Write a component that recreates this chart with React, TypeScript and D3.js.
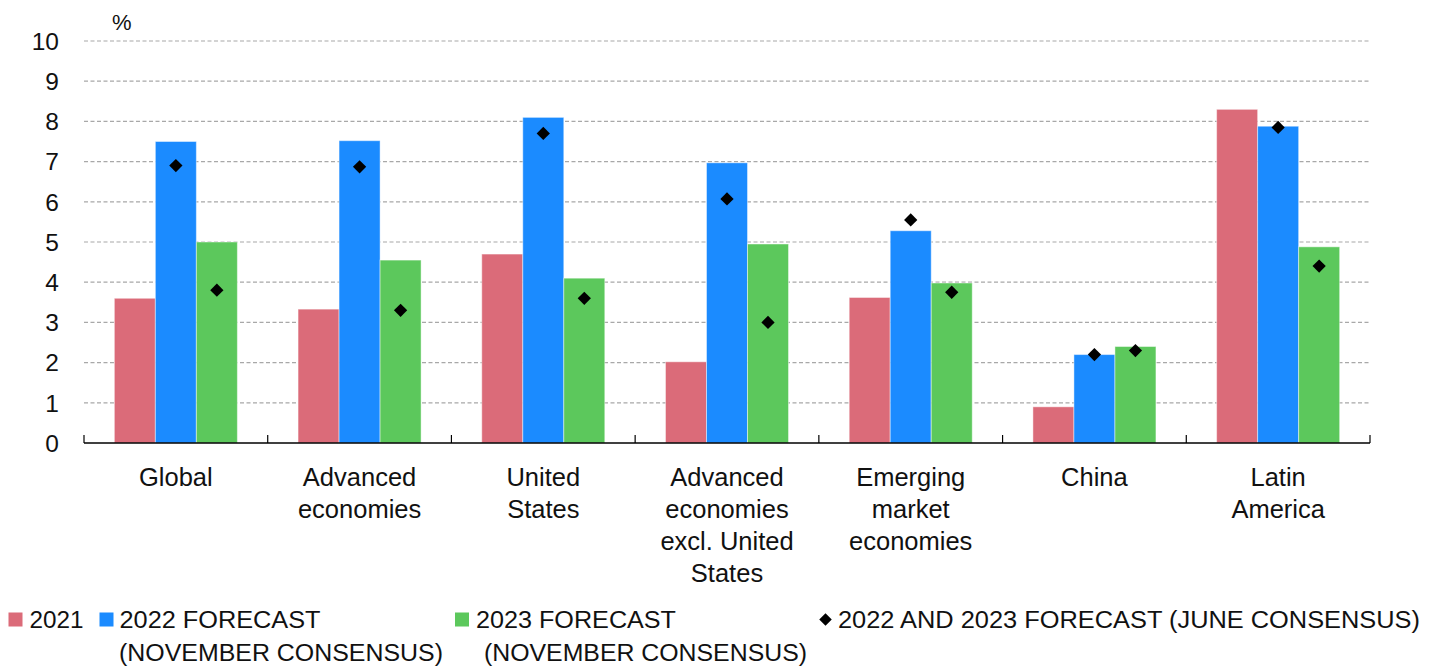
import React from "react";
import * as d3 from "d3";

const categories: string[][] = [
  ["Global"],
  ["Advanced", "economies"],
  ["United", "States"],
  ["Advanced", "economies", "excl. United", "States"],
  ["Emerging", "market", "economies"],
  ["China"],
  ["Latin", "America"],
];
const series = ["2021", "2022 FORECAST (NOVEMBER CONSENSUS)", "2023 FORECAST (NOVEMBER CONSENSUS)"];
const values2021 = [3.6, 3.33, 4.7, 2.02, 3.62, 0.9, 8.3];
const values2022Nov = [7.5, 7.52, 8.1, 6.97, 5.28, 2.2, 7.88];
const values2023Nov = [5.0, 4.55, 4.1, 4.95, 3.98, 2.4, 4.88];
const june2022 = [6.9, 6.87, 7.7, 6.07, 5.55, 2.2, 7.85];
const june2023 = [3.8, 3.3, 3.6, 3.0, 3.75, 2.3, 4.4];
const yTicks = [0, 1, 2, 3, 4, 5, 6, 7, 8, 9, 10];

const colors = ["#DB6B79", "#1B8BFF", "#5CC85C"];
const FONT = "'Liberation Sans', Arial, Helvetica, sans-serif";

export default function App() {
  const W = 1435;
  const H = 670;
  const left = 84;
  const right = 1370;
  const y0 = 443;
  const y10 = 41;

  const x = d3.scaleBand<number>().domain(d3.range(categories.length)).range([left, right]).padding(0);
  const xi = d3.scaleBand<number>().domain([0, 1, 2]).range([0, x.bandwidth()]).paddingInner(0).paddingOuter(0.74);
  const y = d3.scaleLinear().domain([0, 10]).range([y0, y10]);

  const allSeries = [values2021, values2022Nov, values2023Nov];
  const juneSeries = [june2022, june2023];

  const diamond = d3.symbol().type(d3.symbolDiamond2).size(112)();
  const diamondSmall = d3.symbol().type(d3.symbolDiamond2).size(100)();

  const legendItems = [
    { kind: "rect", color: colors[0], mx: 8.5, lines: [{ t: "2021", x: 29.5, len: 54 }] },
    {
      kind: "rect",
      color: colors[1],
      mx: 99.5,
      lines: [
        { t: "2022 FORECAST", x: 119.5, len: 201 },
        { t: "(NOVEMBER CONSENSUS)", x: 119, len: 324 },
      ],
    },
    {
      kind: "rect",
      color: colors[2],
      mx: 455,
      lines: [
        { t: "2023 FORECAST", x: 476, len: 200 },
        { t: "(NOVEMBER CONSENSUS)", x: 484, len: 323 },
      ],
    },
    {
      kind: "diamond",
      color: "#000",
      mx: 818,
      lines: [{ t: "2022 AND 2023 FORECAST (JUNE CONSENSUS)", x: 838, len: 582 }],
    },
  ];

  return (
    <svg width={W} height={H} style={{ position: "absolute", left: 0, top: 0, background: "#fff" }} fontFamily={FONT}>
      {/* gridlines */}
      {yTicks.filter((t) => t > 0).map((t) => (
        <line key={"g" + t} x1={left} x2={right} y1={y(t)} y2={y(t)} stroke="#A8A8A8" strokeWidth={1.2} strokeDasharray="4,2.5" />
      ))}
      {/* y tick labels */}
      {yTicks.map((t) => (
        <text key={"yt" + t} x={59} y={y(t)} dy="0.36em" textAnchor="end" fontSize={24.5} fill="#111">
          {t}
        </text>
      ))}
      <text x={112} y={30} fontSize={22} fill="#111">%</text>

      {/* bars */}
      {categories.map((_, ci) => (
        <g key={"c" + ci} transform={`translate(${x(ci)},0)`}>
          {allSeries.map((vals, si) => (
            <rect
              key={"b" + si}
              x={xi(si)!}
              y={y(vals[ci])}
              width={xi.bandwidth()}
              height={y(0) - y(vals[ci])}
              fill={colors[si]}
              stroke="#ffffff"
              strokeOpacity={0.45}
              strokeWidth={1}
            />
          ))}
          {juneSeries.map((vals, si) => (
            <path
              key={"d" + si}
              d={diamond!}
              transform={`translate(${xi(si + 1)! + xi.bandwidth() / 2},${y(vals[ci])})`}
              fill="#000"
            />
          ))}
        </g>
      ))}

      {/* x axis */}
      <line x1={left} x2={right} y1={y0} y2={y0} stroke="#000" strokeWidth={1.5} />
      {d3.range(categories.length + 1).map((i) => {
        const xx = i < categories.length ? x(i)! : right;
        return <line key={"tk" + i} x1={xx} x2={xx} y1={y0} y2={y0 - 8} stroke="#000" strokeWidth={1.2} />;
      })}

      {/* category labels */}
      {categories.map((lines, ci) => (
        <text key={"cl" + ci} x={x(ci)! + x.bandwidth() / 2} y={485.5} textAnchor="middle" fontSize={25.5} fill="#111">
          {lines.map((ln, li) => (
            <tspan key={li} x={x(ci)! + x.bandwidth() / 2} dy={li === 0 ? 0 : 32}>
              {ln}
            </tspan>
          ))}
        </text>
      ))}

      {/* legend */}
      {legendItems.map((it, i) => (
        <g key={"lg" + i}>
          {it.kind === "rect" ? (
            <rect x={it.mx} y={612.5} width={14} height={14} fill={it.color} />
          ) : (
            <path d={diamondSmall!} transform={`translate(${it.mx + 7.5},619.5)`} fill="#000" />
          )}
          {it.lines.map((ln, li) => (
            <text
              key={li}
              x={ln.x}
              y={628}
              dy={li * 32.5}
              fontSize={23}
              fill="#111"
              textLength={ln.len}
              lengthAdjust="spacingAndGlyphs"
            >
              {ln.t}
            </text>
          ))}
        </g>
      ))}
    </svg>
  );
}
